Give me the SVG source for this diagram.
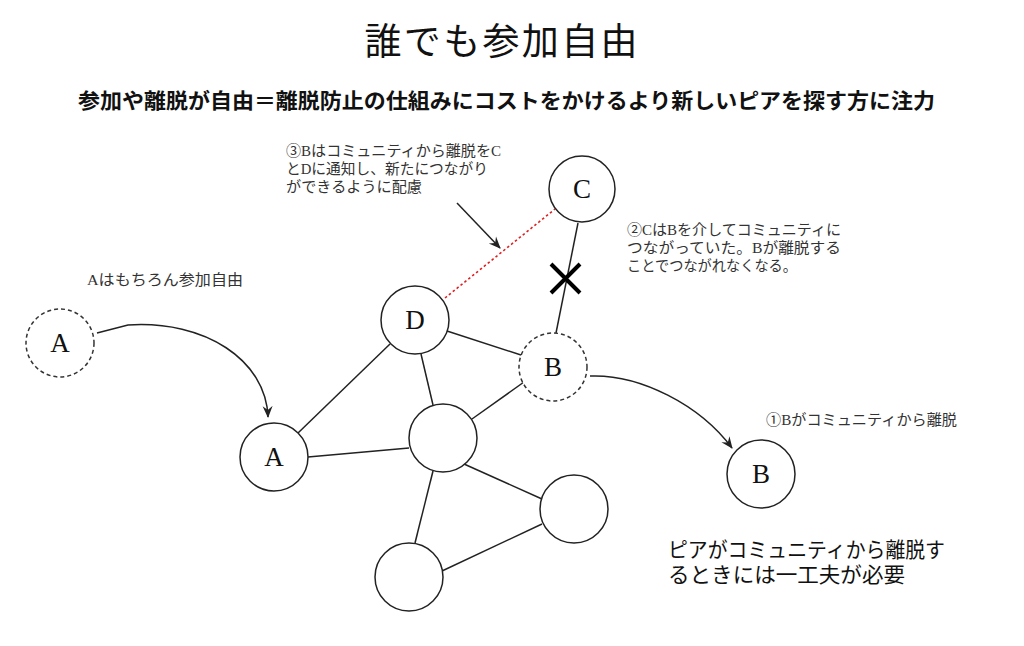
<svg xmlns="http://www.w3.org/2000/svg" width="1024" height="646" viewBox="0 0 1024 646">
<style>
.n{fill:#fff;stroke:#222;stroke-width:1.5}
.d{fill:#fff;stroke:#333;stroke-width:1.5;stroke-dasharray:4 3}
.lb{font-family:"Liberation Serif","Noto Sans CJK JP",serif;font-size:27px;fill:#111;text-anchor:middle}
.e{stroke:#222;stroke-width:1.5;fill:none}
.t{font-family:"Liberation Serif","Noto Sans CJK JP",serif;font-size:15px;fill:#333}
.tb{font-family:"Liberation Serif","Noto Sans CJK JP",serif;font-size:21px;fill:#111}
</style>
<defs>
<marker id="ah" viewBox="0 0 12 12" refX="11" refY="6" markerWidth="12" markerHeight="12" markerUnits="userSpaceOnUse" orient="auto">
<path d="M0,1 L12,6 L0,11 L4,6 Z" fill="#222"/>
</marker>
</defs>
<rect width="1024" height="646" fill="#fff"/>
<text x="501" y="55" font-family="Liberation Serif,'Noto Sans CJK JP',serif" font-size="37" fill="#111" text-anchor="middle" textLength="273" lengthAdjust="spacing">誰でも参加自由</text>
<text x="78" y="108" font-family="'Noto Sans CJK JP',sans-serif" font-weight="bold" font-size="21" fill="#111" textLength="857" lengthAdjust="spacingAndGlyphs">参加や離脱が自由＝離脱防止の仕組みにコストをかけるより新しいピアを探す方に注力</text>
<g id="connectors">
<line class="e" x1="578" y1="223" x2="556" y2="333"/>
<line class="e" x1="447" y1="331" x2="521" y2="355"/>
<line class="e" x1="390" y1="344" x2="298" y2="433"/>
<line class="e" x1="421" y1="354" x2="433" y2="405"/>
<line class="e" x1="524" y1="382" x2="472" y2="419"/>
<line class="e" x1="308" y1="457" x2="409" y2="448"/>
<line class="e" x1="464" y1="464" x2="542" y2="499"/>
<line class="e" x1="433" y1="471" x2="415" y2="543"/>
<line class="e" x1="442" y1="571" x2="542" y2="524"/>
<line x1="445" y1="298" x2="555" y2="209" stroke="#e02020" stroke-width="1.6" stroke-dasharray="2.5 2.5"/>
<line class="e" x1="457" y1="203" x2="500" y2="248" marker-end="url(#ah)"/>
<path class="e" d="M97,333 L128,325 C205,320 266,360 268,417" marker-end="url(#ah)"/>
<path class="e" d="M590,376 C640,374 700,405 732,448" marker-end="url(#ah)"/>
<path d="M551,264 L580,293 M580,264 L551,293" stroke="#000" stroke-width="4" fill="none"/>
</g>
<g id="nodeC"><circle class="n" cx="582" cy="189" r="33"/><text class="lb" x="582" y="198">C</text></g>
<g id="nodeD"><circle class="n" cx="415" cy="320" r="34"/><text class="lb" x="415" y="329">D</text></g>
<g id="nodeB1"><circle class="d" cx="553" cy="367" r="34"/><text class="lb" x="553" y="376">B</text></g>
<g id="nodeA1"><circle class="d" cx="60" cy="343" r="34"/><text class="lb" x="60" y="352">A</text></g>
<g id="nodeA2"><circle class="n" cx="274" cy="457" r="34"/><text class="lb" x="274" y="466">A</text></g>
<g id="nodeM"><circle class="n" cx="443" cy="438" r="34"/></g>
<g id="nodeR"><circle class="n" cx="574" cy="509" r="34"/></g>
<g id="nodeBt"><circle class="n" cx="409" cy="577" r="34"/></g>
<g id="nodeB2"><circle class="n" cx="761" cy="474" r="34"/><text class="lb" x="761" y="483">B</text></g>
<g id="labels">
<text class="t" x="286" y="156" textLength="215" lengthAdjust="spacingAndGlyphs">③Bはコミュニティから離脱をC</text>
<text class="t" x="286" y="174" textLength="202" lengthAdjust="spacingAndGlyphs">とDに通知し、新たにつながり</text>
<text class="t" x="286" y="192" textLength="136" lengthAdjust="spacingAndGlyphs">ができるように配慮</text>
<text class="t" x="627" y="235" textLength="214" lengthAdjust="spacingAndGlyphs">②CはBを介してコミュニティに</text>
<text class="t" x="627" y="253" textLength="214" lengthAdjust="spacingAndGlyphs">つながっていた。Bが離脱する</text>
<text class="t" x="627" y="271" textLength="170" lengthAdjust="spacingAndGlyphs">ことでつながれなくなる。</text>
<text class="t" x="87" y="285" textLength="156" lengthAdjust="spacingAndGlyphs">Aはもちろん参加自由</text>
<text class="t" x="766" y="425" textLength="191" lengthAdjust="spacingAndGlyphs">①Bがコミュニティから離脱</text>
<text class="tb" x="668" y="557" textLength="277" lengthAdjust="spacingAndGlyphs">ピアがコミュニティから離脱す</text>
<text class="tb" x="668" y="582" textLength="237" lengthAdjust="spacingAndGlyphs">るときには一工夫が必要</text>
</g>
</svg>
